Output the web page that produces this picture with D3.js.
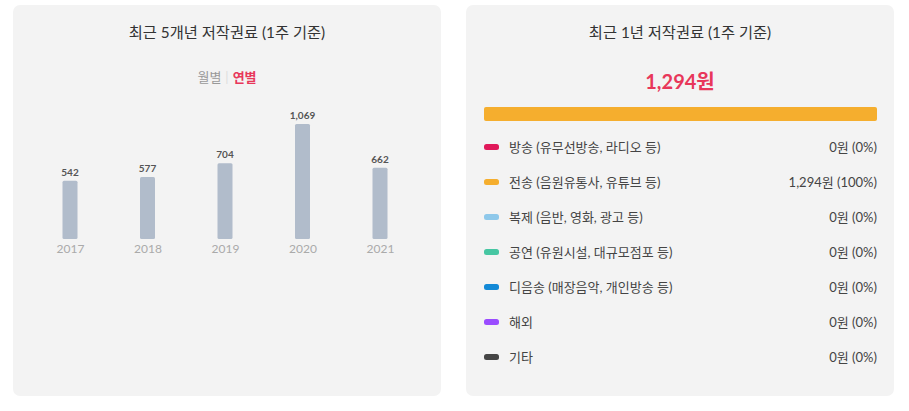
<!DOCTYPE html>
<html>
  <head>
    <meta http-equiv="Content-type" content="text/html; charset=utf-8"/>
    <title>저작권료</title>
    <script src="https://d3js.org/d3.v7.min.js"></script>
    <style>
      body{ margin:0; background:#fff; }
      svg{ display:block; font-family: Lato, "Noto Sans CJK KR", sans-serif; }
    </style>
  </head>
  <body>
    <svg width="909" height="411"></svg>
    <script>
      // data
      var years = ["2017","2018","2019","2020","2021"];
      var yearValues = [542, 577, 704, 1069, 662];
      var categories = ["방송 (유무선방송, 라디오 등)", "전송 (음원유통사, 유튜브 등)", "복제 (음반, 영화, 광고 등)",
                        "공연 (유원시설, 대규모점포 등)", "디음송 (매장음악, 개인방송 등)", "해외", "기타"];
      var catValues = [0, 1294, 0, 0, 0, 0, 0];
      var catColors = ["#e0195a", "#f5ae2e", "#8ec8ea", "#46c6a2", "#1389d6", "#9a4cff", "#454545"];

      var svg = d3.select("svg");
      var fmt = d3.format(",");

      // panels
      [13, 466].forEach(function(x){
        svg.append("rect").attr("x", x).attr("y", 5).attr("width", 428).attr("height", 391)
          .attr("rx", 7).attr("fill", "#f3f3f3");
      });

      // ---- left panel
      svg.append("text").attr("x", 227).attr("y", 38).attr("text-anchor", "middle")
        .attr("font-size", 15.3).attr("fill", "#333").text("최근 5개년 저작권료 (1주 기준)");

      var tog = svg.append("text").attr("x", 227).attr("y", 82).attr("text-anchor", "middle").attr("font-size", 13);
      tog.append("tspan").attr("fill", "#999").text("월별");
      tog.append("tspan").attr("fill", "#ddd").attr("dx", 4).text("|");
      tog.append("tspan").attr("fill", "#e8375a").attr("font-weight", "bold").attr("dx", 4).text("연별");

      var barW = 15;
      var x = d3.scalePoint().domain(years).range([70, 380]);
      var y = d3.scaleLinear().domain([0, 1069]).range([239, 124]);

      var g = svg.append("g");
      g.selectAll(".bar").data(years).enter().append("rect")
        .attr("x", function(d){ return x(d) - barW / 2; })
        .attr("y", function(d, i){ return y(yearValues[i]); })
        .attr("width", barW)
        .attr("height", function(d, i){ return y(0) - y(yearValues[i]); })
        .attr("rx", 1.5).attr("fill", "#b1bccb");

      g.selectAll(".val").data(years).enter().append("text")
        .attr("x", function(d){ return x(d); })
        .attr("y", function(d, i){ return y(yearValues[i]) - 5; })
        .attr("text-anchor", "middle").attr("font-size", 10).attr("font-weight", "bold")
        .attr("fill", "#555").text(function(d, i){ return fmt(yearValues[i]); });

      var ax = svg.append("g").attr("transform", "translate(0,239)")
        .call(d3.axisBottom(x).tickSize(0).tickPadding(5))
        .attr("font-family", null).attr("font-size", 12);
      ax.select(".domain").remove();
      ax.selectAll("text").attr("fill", "#aaa");

      // ---- right panel
      svg.append("text").attr("x", 680).attr("y", 38).attr("text-anchor", "middle")
        .attr("font-size", 15.3).attr("fill", "#333").text("최근 1년 저작권료 (1주 기준)");

      var total = d3.sum(catValues);
      svg.append("text").attr("x", 680).attr("y", 89).attr("text-anchor", "middle")
        .attr("font-size", 20).attr("font-weight", "bold").attr("fill", "#e8375a")
        .text(fmt(total) + "원");

      var sx = d3.scaleLinear().domain([0, total]).range([484, 877]);
      var cum = d3.cumsum(catValues);
      svg.append("g").selectAll("rect").data(catValues).enter().append("rect")
        .attr("x", function(d, i){ return sx(cum[i] - d); })
        .attr("y", 107).attr("height", 14)
        .attr("width", function(d){ return sx(d) - sx(0); })
        .attr("rx", 2).attr("fill", function(d, i){ return catColors[i]; });

      var ly = d3.scalePoint().domain(categories).range([147, 357]);
      var rows = svg.append("g").selectAll("g").data(categories).enter().append("g")
        .attr("transform", function(d){ return "translate(0," + ly(d) + ")"; });
      rows.append("rect").attr("x", 484).attr("y", -3).attr("width", 15).attr("height", 6)
        .attr("rx", 2.5).attr("fill", function(d, i){ return catColors[i]; });
      rows.append("text").attr("x", 509).attr("y", 5).attr("font-size", 13).attr("fill", "#444")
        .text(function(d){ return d; });
      rows.append("text").attr("x", 877).attr("y", 5).attr("text-anchor", "end").attr("font-size", 13)
        .attr("fill", "#444")
        .text(function(d, i){ return fmt(catValues[i]) + "원 (" + Math.round(catValues[i] / total * 100) + "%)"; });
    </script>
  </body>
</html>
